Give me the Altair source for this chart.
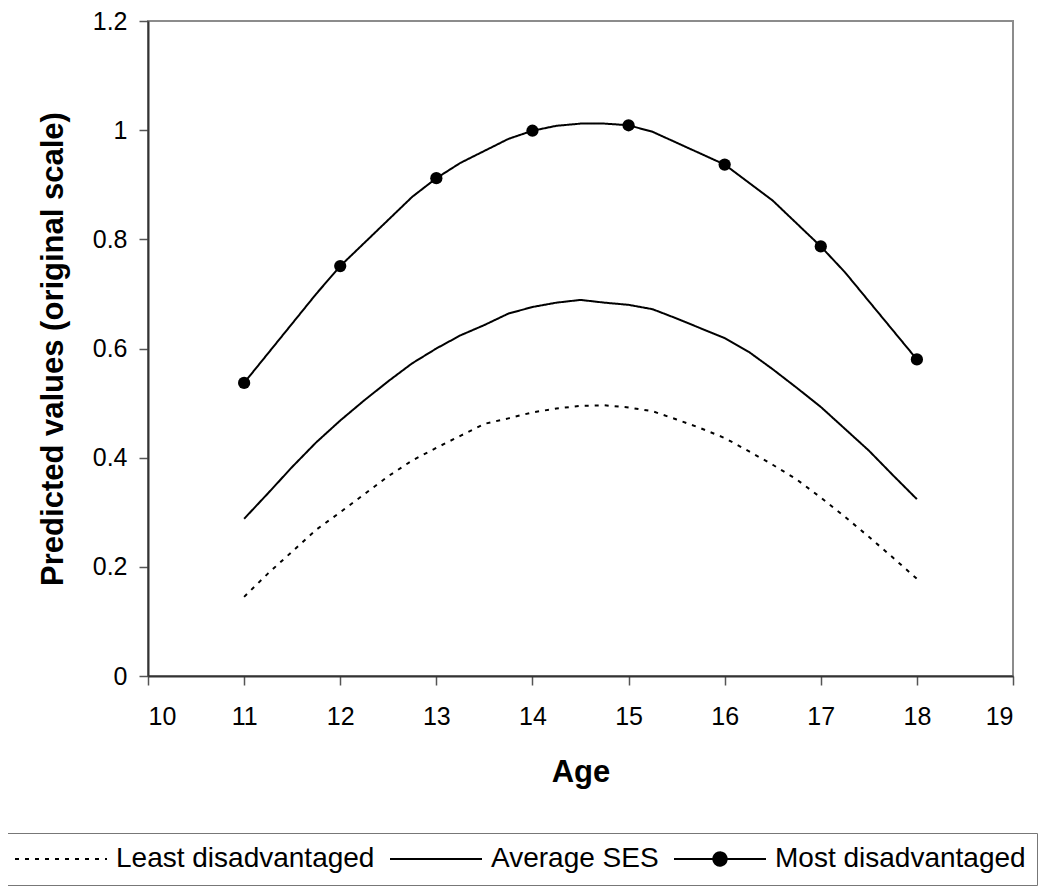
import altair as alt
import pandas as pd

# ---- data ----
series_names = ["Least disadvantaged", "Average SES", "Most disadvantaged"]

least_age = [11, 11.25, 11.5, 11.75, 12, 12.25, 12.5, 12.75, 13, 13.25, 13.5, 13.75,
             14, 14.25, 14.5, 14.75, 15, 15.25, 15.5, 15.75, 16, 16.25, 16.5, 16.75,
             17, 17.25, 17.5, 17.75, 18]
least_val = [0.145, 0.188, 0.228, 0.268, 0.300, 0.333, 0.366, 0.395, 0.418, 0.440, 0.462, 0.472,
             0.483, 0.490, 0.495, 0.496, 0.492, 0.485, 0.470, 0.454, 0.436, 0.412, 0.387, 0.360,
             0.327, 0.292, 0.255, 0.217, 0.178]

avg_age = [11, 11.25, 11.5, 11.75, 12, 12.25, 12.5, 12.75, 13, 13.25, 13.5, 13.75,
           14, 14.25, 14.5, 14.75, 15, 15.25, 15.5, 15.75, 16, 16.25, 16.5, 16.75,
           17, 17.25, 17.5, 17.75, 18]
avg_val = [0.288, 0.335, 0.383, 0.428, 0.468, 0.505, 0.540, 0.573, 0.600, 0.624, 0.643, 0.664,
           0.676, 0.684, 0.689, 0.684, 0.680, 0.672, 0.655, 0.637, 0.619, 0.594, 0.562, 0.528,
           0.493, 0.453, 0.413, 0.368, 0.324]

most_age = [11, 11.75, 12, 12.75, 13, 13.25, 13.75, 14, 14.25, 14.5, 14.75, 15, 15.25,
            16, 16.5, 17, 17.25, 18]
most_val = [0.537, 0.700, 0.751, 0.878, 0.912, 0.940, 0.984, 0.999, 1.008, 1.012, 1.012, 1.009,
            0.997, 0.937, 0.871, 0.787, 0.740, 0.580]

marker_age = [11, 12, 13, 14, 15, 16, 17, 18]
marker_val = [0.537, 0.751, 0.912, 0.999, 1.009, 0.937, 0.787, 0.580]

x_ticks = list(range(10, 20))
y_ticks = [0, 0.2, 0.4, 0.6, 0.8, 1.0, 1.2]

# ---- tables ----
lines_df = pd.concat([
    pd.DataFrame({"age": least_age, "value": least_val, "series": series_names[0]}),
    pd.DataFrame({"age": avg_age, "value": avg_val, "series": series_names[1]}),
    pd.DataFrame({"age": most_age, "value": most_val, "series": series_names[2]}),
], ignore_index=True)
markers_df = pd.DataFrame({"age": marker_age, "value": marker_val, "series": series_names[2]})

FONT = "Liberation Sans"

x_enc = alt.X("age:Q", scale=alt.Scale(domain=[10, 19], nice=False),
              axis=alt.Axis(values=x_ticks, title="Age", format="d", titlePadding=28,
                            labelPadding=19))
y_enc = alt.Y("value:Q", scale=alt.Scale(domain=[0, 1.2], nice=False),
              axis=alt.Axis(values=y_ticks, title="Predicted values (original scale)",
                            format="~g", titlePadding=23, labelPadding=12))

most_path = ("M-1,0H1M-0.145,0A0.145,0.145,0,1,0,0.145,0"
             "A0.145,0.145,0,1,0,-0.145,0Z")

legend = alt.Legend(
    title=None, orient="none", legendX=-145, legendY=812, direction="horizontal",
    labelFont=FONT, labelFontSize=28, labelColor="black", labelLimit=0, symbolSize=8464,
    symbolStrokeWidth=2, symbolStrokeColor="black", symbolFillColor="black",
    symbolType={"expr": "datum.value === 'Most disadvantaged' ? '" + most_path + "' : 'M-1,0H1'"},
    clipHeight=30, padding=11,
    strokeColor="#777777", columnPadding=14, labelOffset=8, symbolOffset=0,
)

lines = alt.Chart(lines_df).mark_line(strokeWidth=2, color="black").encode(
    x=x_enc, y=y_enc,
    strokeDash=alt.StrokeDash("series:N",
                              scale=alt.Scale(domain=series_names, range=[[4, 6], [1, 0], [1, 0]]),
                              legend=legend),
    detail="series:N",
)

points = alt.Chart(markers_df).mark_point(filled=True, color="black", size=150, opacity=1).encode(
    x="age:Q", y="value:Q",
)

chart = alt.layer(lines, points).properties(
    width=865, height=655,
    autosize=alt.AutoSizeParams(type="none"),
    padding={"left": 140, "top": 13, "right": 25, "bottom": 212},
).configure_view(
    stroke="#8c8c8c", strokeWidth=2,
).configure_axis(
    grid=False, labelFont=FONT, labelFontSize=25, labelColor="black",
    titleFont=FONT, titleFontSize=31, titleFontWeight="bold", titleColor="black",
    domainColor="#333333", domainWidth=2, tickColor="#555555", tickWidth=1.5, tickSize=9,
)

chart.save("out.html", embed_options={"renderer": "svg", "actions": False})
